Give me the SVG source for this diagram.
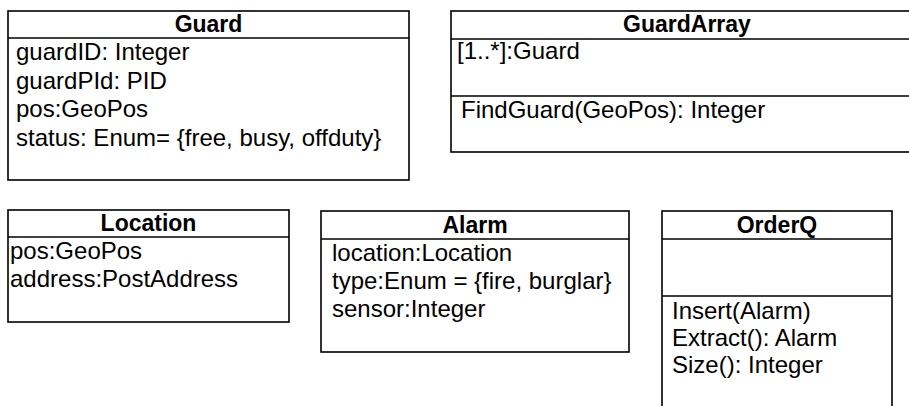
<svg xmlns="http://www.w3.org/2000/svg" width="909" height="406" viewBox="0 0 909 406">
<style>
.box{fill:#fff;stroke:#000;stroke-width:1.6}
.ln{stroke:#000;stroke-width:1.6}
.t{font-family:"Liberation Sans",Arial,Helvetica,sans-serif;font-size:23px;font-weight:bold;text-anchor:middle;fill:#000}
.b{font-family:"Liberation Sans",Arial,Helvetica,sans-serif;font-size:24px;fill:#000}
</style>
<rect width="909" height="406" fill="#fff"/>
<g id="Guard">
<rect class="box" x="8" y="11" width="401" height="169"/>
<line class="ln" x1="8" y1="38" x2="409" y2="38"/>
<text class="t" x="208.5" y="32">Guard</text>
<text class="b" x="16" y="60">guardID: Integer</text>
<text class="b" x="16" y="88.5">guardPId: PID</text>
<text class="b" x="16" y="117">pos:GeoPos</text>
<text class="b" x="16" y="145.5">status: Enum= {free, busy, offduty}</text>
</g>
<g id="GuardArray">
<rect class="box" x="451" y="11" width="471" height="141"/>
<line class="ln" x1="451" y1="39" x2="922" y2="39"/>
<line class="ln" x1="451" y1="96" x2="922" y2="96"/>
<text class="t" x="687" y="32">GuardArray</text>
<text class="b" x="457" y="59">[1..*]:Guard</text>
<text class="b" x="461" y="118">FindGuard(GeoPos): Integer</text>
</g>
<g id="Location">
<rect class="box" x="8" y="210" width="281" height="112"/>
<line class="ln" x1="8" y1="237" x2="289" y2="237"/>
<text class="t" x="148.5" y="231">Location</text>
<text class="b" x="10" y="259">pos:GeoPos</text>
<text class="b" x="10" y="287">address:PostAddress</text>
</g>
<g id="Alarm">
<rect class="box" x="321" y="211" width="308" height="141"/>
<line class="ln" x1="321" y1="239" x2="629" y2="239"/>
<text class="t" x="475" y="233">Alarm</text>
<text class="b" x="332" y="261">location:Location</text>
<text class="b" x="332" y="289">type:Enum = {fire, burglar}</text>
<text class="b" x="332" y="317">sensor:Integer</text>
</g>
<g id="OrderQ">
<rect class="box" x="662" y="211" width="230" height="215"/>
<line class="ln" x1="662" y1="239" x2="892" y2="239"/>
<line class="ln" x1="662" y1="296" x2="892" y2="296"/>
<text class="t" x="777" y="233">OrderQ</text>
<text class="b" x="672" y="319">Insert(Alarm)</text>
<text class="b" x="672" y="346">Extract(): Alarm</text>
<text class="b" x="672" y="373">Size(): Integer</text>
</g>
<g id="connectors"></g>
</svg>
